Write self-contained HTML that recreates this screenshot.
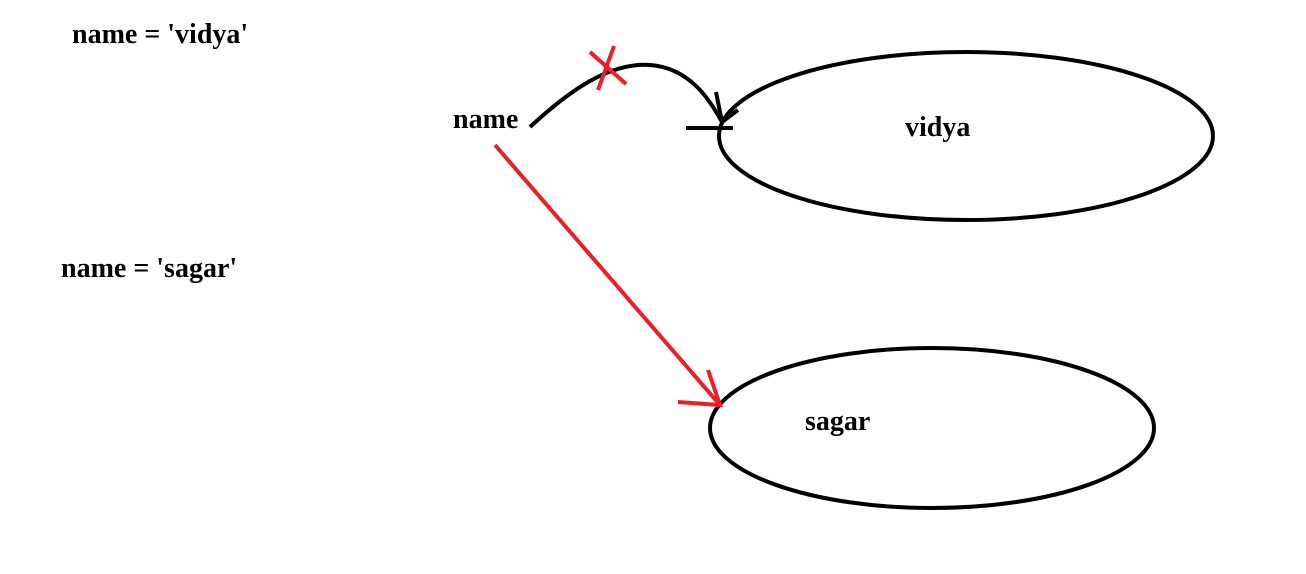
<!DOCTYPE html>
<html><head><style>
body{margin:0;background:#fff;width:1306px;height:569px;overflow:hidden}
text{font-family:"Liberation Serif",serif;font-weight:bold;font-size:28px;fill:#000}
</style></head><body>
<svg width="1306" height="569" viewBox="0 0 1306 569">
<ellipse cx="966" cy="136" rx="247" ry="84" fill="none" stroke="#000" stroke-width="4"/>
<ellipse cx="932" cy="428" rx="222" ry="80" fill="none" stroke="#000" stroke-width="4"/>
<text x="72" y="43">name = 'vidya'</text>
<text x="61" y="277">name = 'sagar'</text>
<text x="453" y="128">name</text>
<text x="905" y="136">vidya</text>
<text x="805" y="430">sagar</text>
<path d="M530 127 C570 90 610 62 650 65 C690 68 710 100 722 122" fill="none" stroke="#000" stroke-width="4"/>
<path d="M716 92 L722 122 L738 110" fill="none" stroke="#000" stroke-width="4"/>
<line x1="686" y1="128" x2="733" y2="128" stroke="#000" stroke-width="4"/>
<line x1="590" y1="52" x2="626" y2="84" stroke="#e8202a" stroke-width="4"/>
<line x1="614" y1="46" x2="598" y2="90" stroke="#e8202a" stroke-width="4"/>
<line x1="495" y1="145" x2="720" y2="405" stroke="#e8202a" stroke-width="4"/>
<path d="M708 370 L720 405 L678 402" fill="none" stroke="#e8202a" stroke-width="4"/>
</svg>
</body></html>
